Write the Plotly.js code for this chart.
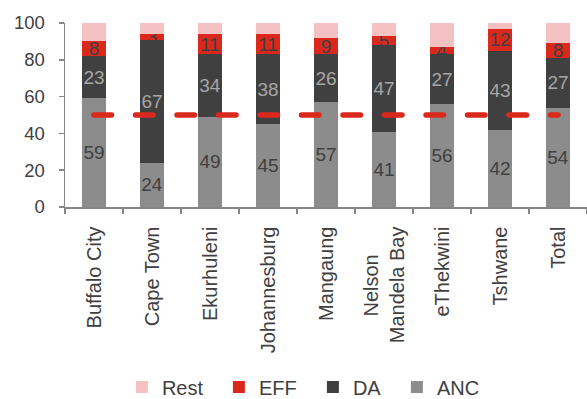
<!DOCTYPE html>
<html>
<head>
<meta charset="utf-8">
<script src="https://cdn.plot.ly/plotly-3.0.1.min.js"></script>
<style>
html,body{margin:0;padding:0;background:#fff;}
#chart{width:587px;height:399px;}
</style>
</head>
<body>
<div id="chart"></div>
<script>
const categories = ["Buffalo City","Cape Town","Ekurhuleni","Johannesburg","Mangaung","Nelson Mandela Bay","eThekwini","Tshwane","Total"];
const tickLabels = ["Buffalo City","Cape Town","Ekurhuleni","Johannesburg","Mangaung","Nelson\u00A0\u00A0\u00A0\u00A0\u00A0<br>Mandela Bay","eThekwini","Tshwane","Total"];
const anc  = [59, 24, 49, 45, 57, 41, 56, 42, 54];
const da   = [23, 67, 34, 38, 26, 47, 27, 43, 27];
const eff  = [ 8,  3, 11, 11,  9,  5,  4, 12,  8];
const rest = [10,  6,  6,  6,  8,  7, 13,  3, 11];
const threshold = [50, 50, 50, 50, 50, 50, 50, 50, 50];

const FONT = "Liberation Sans, Arial, sans-serif";
const TXT = "#404040";

function barTrace(name, vals, color, labelColor, showLabels, legendW) {
  return {
    type: "bar", name: name, x: categories, y: vals,
    marker: {color: color, line: {width: 0}},
    text: showLabels ? vals.map(String) : undefined,
    textposition: showLabels ? "inside" : "none",
    insidetextanchor: "middle",
    textangle: 0,
    insidetextfont: {family: FONT, size: 19, color: labelColor},
    legendwidth: legendW,
    hoverinfo: "name+y"
  };
}

const data = [
  barTrace("ANC", anc, "#8C8C8C", "#404040", true, 46),
  barTrace("DA", da, "#404040", "#A6A6A6", true, 39),
  barTrace("EFF", eff, "#DA291C", "#404040", true, 49),
  barTrace("Rest", rest, "#F4C2C2", "#404040", false, 52),
  {
    type: "scatter", mode: "lines", x: categories, y: threshold,
    line: {color: "#DA291C", width: 5.5, dash: "17.5px,24px"},
    showlegend: false, hoverinfo: "skip"
  }
];

const layout = {
  width: 587, height: 399,
  margin: {l: 65, r: 0, t: 23, b: 192, autoexpand: false},
  paper_bgcolor: "#fff", plot_bgcolor: "#fff",
  font: {family: FONT, color: TXT, size: 19},
  barmode: "stack",
  bargap: 0.6,
  showlegend: true,
  uniformtext: {mode: "show", minsize: 19},
  legend: {
    orientation: "h", traceorder: "reversed",
    x: 0.109, xanchor: "left", y: -0.978, yanchor: "middle",
    font: {family: FONT, size: 20, color: TXT},
    itemwidth: 30
  },
  xaxis: {
    type: "category",
    categoryorder: "array", categoryarray: categories,
    tickmode: "array", tickvals: categories, ticktext: tickLabels,
    tickangle: -90,
    tickson: "boundaries",
    ticks: "outside", ticklen: 5, tickcolor: "#868686", tickwidth: 1.5,
    showline: true, linecolor: "#868686", linewidth: 1.5,
    showgrid: false, zeroline: false,
    tickfont: {family: FONT, size: 20, color: TXT},
    ticklabelstandoff: 10,
    fixedrange: true
  },
  yaxis: {
    range: [0, 100],
    tickvals: [0, 20, 40, 60, 80, 100],
    ticks: "outside", ticklen: 5, tickcolor: "#868686", tickwidth: 1.5,
    showline: true, linecolor: "#868686", linewidth: 1.5,
    showgrid: false, zeroline: false,
    tickfont: {family: FONT, size: 18.5, color: TXT},
    ticklabelstandoff: 10,
    fixedrange: true
  }
};

Plotly.newPlot("chart", data, layout, {displayModeBar: false, staticPlot: true}).then(function () {
  document.querySelectorAll(".scatterlayer path.js-line").forEach(function (p) {
    p.style.strokeLinecap = "round";
  });
});
</script>
</body>
</html>
